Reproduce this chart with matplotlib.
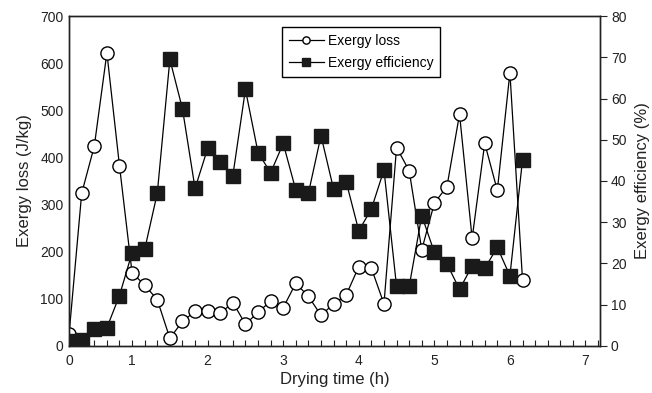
import numpy as np
import matplotlib
matplotlib.use('Agg')
import matplotlib.pyplot as plt
from matplotlib.ticker import MultipleLocator

plt.rcParams['font.family'] = ['Liberation Sans', 'DejaVu Sans']

# Drying time in minutes (one reading every 10 min)
time_min = [10, 20, 30, 40, 50, 60, 70, 80, 90, 100, 110, 120, 130, 140, 150, 160,
            170, 180, 190, 200, 210, 220, 230, 240, 250, 260, 270, 280, 290, 300,
            310, 320, 330, 340, 350, 360, 370]

# Exergy loss (J/kg)
exergy_loss = [26, 324, 424, 622, 382, 155, 129, 98, 16, 52, 73, 73, 69, 92, 46, 71,
               95, 81, 133, 105, 65, 89, 108, 168, 165, 89, 421, 372, 204, 303,
               338, 492, 228, 430, 330, 580, 140]

# Exergy efficiency (%)
exergy_eff = [1.2, 1.5, 4.1, 4.4, 12.2, 22.6, 23.4, 37.0, 69.5, 57.5, 38.2, 47.9,
              44.7, 41.3, 62.2, 46.9, 42.0, 49.1, 37.8, 37.0, 51.0, 38.0, 39.8, 27.9,
              33.2, 42.7, 14.4, 14.4, 31.6, 22.7, 19.9, 13.7, 19.4, 18.8, 23.9, 17.0,
              45.1]

xtick_labels = ['0', '1', '2', '3', '4', '5', '6', '7']

t = np.array(time_min) / 60.0

fig = plt.figure(figsize=(6.52, 3.93), dpi=100)
ax = fig.add_subplot(111)
fig.subplots_adjust(left=0.106, right=0.920, top=0.959, bottom=0.120)
ax2 = ax.twinx()

l1, = ax.plot(t, exergy_loss, color='black', lw=0.9, marker='o', ms=9.5,
              mfc='white', mec='black', mew=1.0, label='Exergy loss')
l2, = ax2.plot(t, exergy_eff, color='black', lw=0.9, marker='s', ms=9.5,
               mfc='#1a1a1a', mec='#1a1a1a', label='Exergy efficiency')

ax.set_xlim(t[0], 7.19)
ax.set_ylim(0, 700)
ax2.set_ylim(0, 80)

# x axis: first reading is shown as "0", ticks every 10 min
ax.set_xticks([t[0], 1, 2, 3, 4, 5, 6, 7])
ax.set_xticklabels(xtick_labels)
ax.xaxis.set_minor_locator(MultipleLocator(1 / 6))
ax.tick_params(axis='x', which='both', direction='in', length=4, width=0.8,
               labelsize=10, pad=6, colors='#222222')
ax.set_yticks(np.arange(0, 701, 100))
ax.tick_params(axis='y', length=0, labelsize=10, pad=4, colors='#222222')
ax2.set_yticks(np.arange(0, 81, 10))
ax2.tick_params(axis='y', direction='out', length=5, width=0.8, labelsize=10,
                pad=3, colors='#222222')

for a in (ax, ax2):
    for s in a.spines.values():
        s.set_linewidth(1.0)
        s.set_color('#222222')

ax.set_xlabel('Drying time (h)', fontsize=12, color='#222222', labelpad=3)
ax.set_ylabel('Exergy loss (J/kg)', fontsize=12, color='#222222', labelpad=6)
ax2.set_ylabel('Exergy efficiency (%)', fontsize=12, color='#222222', labelpad=6)

leg = ax2.legend([l1, l2], ['Exergy loss', 'Exergy efficiency'], loc='upper left',
                 bbox_to_anchor=(0.401, 0.967), borderaxespad=0, fontsize=10,
                 markerscale=0.55, handlelength=2.5, fancybox=False,
                 edgecolor='black', framealpha=1, borderpad=0.5, labelspacing=0.6,
                 handletextpad=0.3)
leg.get_frame().set_linewidth(1.0)

fig.savefig('out.png', dpi=100)
